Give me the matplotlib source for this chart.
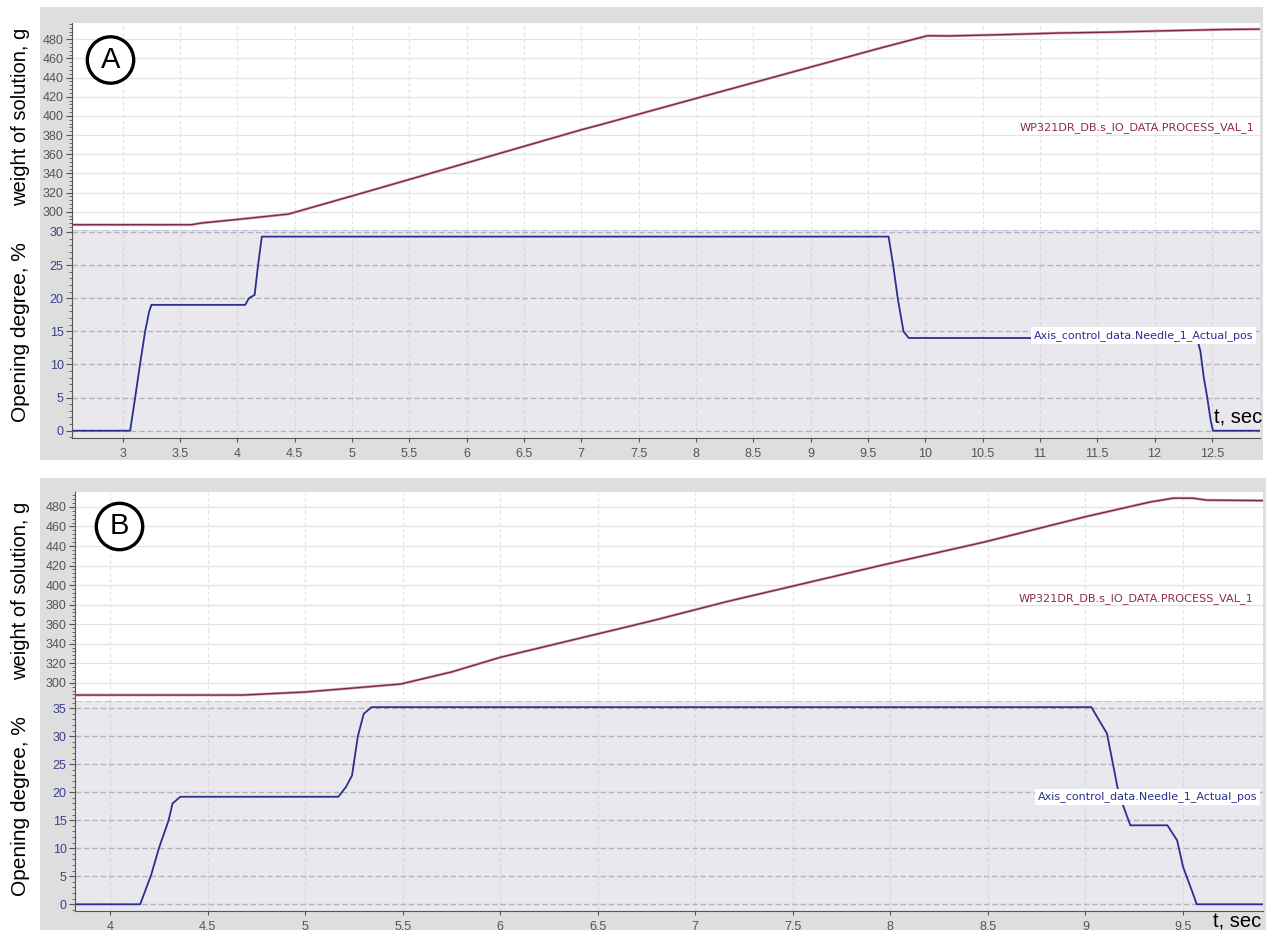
"""Two-panel valve / weight trace, recreated with matplotlib."""

import matplotlib
matplotlib.use("Agg")
import matplotlib.pyplot as plt
from matplotlib.patches import Rectangle, Circle
from matplotlib.ticker import MultipleLocator, FormatStrFormatter

# --- panel A data ---
a_weight_t = [2.56, 3.60, 3.68, 4.00, 4.445, 5.0, 6.0, 7.0, 7.165, 8.0, 9.0, 9.6, 9.9, 10.02,
              10.2, 10.63, 11.15, 11.64, 12.1, 12.6, 12.92]
a_weight_g = [286.5, 286.5, 288.2, 292.0, 297.6, 316.5, 351.0, 385.6, 390.8, 418.3, 451.0, 470.6,
              480.0, 483.7, 483.5, 484.7, 486.5, 487.5, 488.9, 490.2, 490.6]
a_open_t = [2.56, 3.064, 3.108, 3.15, 3.195, 3.23, 3.25, 4.068, 4.10, 4.15, 4.18, 4.213,
            9.68, 9.72, 9.76, 9.81, 9.855, 12.37, 12.40, 12.43, 12.46, 12.49, 12.51, 12.92]
a_open_v = [0, 0, 5, 10, 15, 18, 19, 19, 20, 20.5, 25, 29.3,
            29.3, 25, 20, 15, 14, 14, 12, 8, 5, 1.5, 0, 0]

# --- panel B data ---
b_weight_t = [3.82, 4.68, 5.0, 5.23, 5.49, 5.75, 6.0, 6.77, 7.16, 7.97, 8.48, 9.0, 9.33,
              9.45, 9.55, 9.62, 9.91]
b_weight_g = [287.4, 287.4, 290.5, 294.3, 298.7, 311.0, 326.0, 363.0, 383.0, 421.0, 444.0,
              470.0, 485.0, 489.0, 489.0, 487.0, 486.5]
b_open_t = [3.82, 4.154, 4.21, 4.25, 4.30, 4.32, 4.36, 5.17, 5.21, 5.24, 5.27, 5.30, 5.34,
            9.03, 9.11, 9.14, 9.17, 9.23, 9.42, 9.47, 9.50, 9.55, 9.57, 9.91]
b_open_v = [0, 0, 5.2, 10, 15, 18, 19.2, 19.2, 21, 23, 30, 34, 35.2,
            35.2, 30.5, 25.2, 19.8, 14.1, 14.1, 11.4, 6.7, 2, 0, 0]

weight_name = "WP321DR_DB.s_IO_DATA.PROCESS_VAL_1"
open_name = "Axis_control_data.Needle_1_Actual_pos"

W, H = 1269, 934
WEIGHT_COLOR = "#7a2a48"
OPEN_COLOR = "#2b2f8e"
TOP_TICK = "#555555"
BOT_TICK = "#3a3f90"
BOT_BG = "#e8e8ee"
FRAME = "#dedede"

plt.rcParams["font.family"] = ["Liberation Sans", "DejaVu Sans"]

fig = plt.figure(figsize=(W / 100, H / 100), dpi=100)


def px_axes(x0, y0, x1, y1):
    # pixel box (top-down image coords) -> figure axes
    return fig.add_axes([x0 / W, 1 - y1 / H, (x1 - x0) / W, (y1 - y0) / H])


def style_axis(ax, color, major, minor, bg):
    ax.set_facecolor(bg)
    for s in ("top", "right", "bottom"):
        ax.spines[s].set_visible(False)
    ax.spines["left"].set_color("#555555")
    ax.yaxis.set_major_locator(MultipleLocator(major))
    ax.yaxis.set_minor_locator(MultipleLocator(minor))
    ax.tick_params(axis="y", which="major", length=4, labelsize=9, labelcolor=color, color="#555555", pad=2)
    ax.tick_params(axis="y", which="minor", length=2, color="#555555")
    ax.xaxis.set_major_locator(MultipleLocator(0.5))


def panel(top_box, bot_box, frame_box, wt, wg, ot, ov, xlim, wlim, olim, letter, circ,
          tsec_xy, wlabel_y, olab_y, wname_y, oname_xy):
    fx0, fy0, fx1, fy1 = frame_box
    fig.add_artist(Rectangle((fx0 / W, 1 - fy1 / H), (fx1 - fx0) / W, (fy1 - fy0) / H,
                             transform=fig.transFigure, facecolor=FRAME, edgecolor="none", zorder=-5))

    ax_w = px_axes(*top_box)
    ax_o = px_axes(*bot_box)

    # weight trace
    style_axis(ax_w, TOP_TICK, 20, 4, "white")
    ax_w.grid(True, axis="y", color="#e4e4e4", lw=0.9)
    ax_w.grid(True, axis="x", color="#e4e4e4", lw=0.9, ls=(0, (3, 2)))
    ax_w.plot(wt, wg, color="#dba6b6", lw=2.0, solid_capstyle="butt")
    ax_w.plot(wt, wg, color=WEIGHT_COLOR, lw=1.0)
    ax_w.set_xlim(*xlim)
    ax_w.set_ylim(*wlim)
    ax_w.tick_params(axis="x", which="both", length=0, labelbottom=False)
    ax_w.text(xlim[1] - 0.05, wname_y, weight_name, ha="right", va="center", fontsize=8.1,
              color="#8a2c50", family=["DejaVu Sans"])

    # opening trace
    style_axis(ax_o, BOT_TICK, 5, 1, BOT_BG)
    ax_o.spines["bottom"].set_visible(True)
    ax_o.spines["bottom"].set_color("#555555")
    ax_o.grid(True, axis="y", color="#b4b4b8", lw=1.0, ls=(0, (4, 2)))
    ax_o.grid(True, axis="x", color="#d6d6dc", lw=0.9, ls=(0, (3, 2)))
    ax_o.axhline(olim[1], color="#b8b8e0", lw=1.2, ls=(0, (4, 2)))
    ax_o.plot(ot, ov, color=OPEN_COLOR, lw=1.3)
    ax_o.set_xlim(*xlim)
    ax_o.set_ylim(*olim)
    ax_o.xaxis.set_major_formatter(FormatStrFormatter("%g"))
    ax_o.tick_params(axis="x", which="major", length=3, labelsize=9, labelcolor=TOP_TICK, color="#555555", pad=4)
    ax_o.text(oname_xy[0], oname_xy[1], open_name, ha="right", va="center", fontsize=8.0,
              color=OPEN_COLOR, family=["DejaVu Sans"],
              bbox=dict(boxstyle="square,pad=0.25", fc="white", ec="none"))

    # circled letter
    cx, cy = circ
    fig.add_artist(Circle((cx / 100, (H - cy) / 100), 0.232, transform=fig.dpi_scale_trans,
                          facecolor="white", edgecolor="black", lw=2.4, zorder=10))
    fig.text(cx / W, 1 - cy / H, letter, ha="center", va="center", fontsize=21, zorder=11)

    # outer labels
    fig.text(21 / W, 1 - wlabel_y / H, "weight of solution, g", rotation=90, ha="center", va="center", fontsize=14.5)
    fig.text(21 / W, 1 - olab_y / H, "Opening degree, %", rotation=90, ha="center", va="center", fontsize=15)
    fig.text(tsec_xy[0] / W, 1 - tsec_xy[1] / H, "t, sec", ha="left", va="center", fontsize=14.5, zorder=12)


panel(top_box=(72, 23, 1260, 230), bot_box=(72, 230, 1260, 438), frame_box=(40, 7, 1263, 460),
      wt=a_weight_t, wg=a_weight_g, ot=a_open_t, ov=a_open_v,
      xlim=(2.557, 12.92), wlim=(281, 497), olim=(-1.1, 30.3), letter="A",
      circ=(110.5, 60), tsec_xy=(1214, 418), wlabel_y=117, olab_y=332,
      wname_y=387.7, oname_xy=(12.86, 14.4))

panel(top_box=(75, 492, 1263, 701), bot_box=(75, 701, 1263, 911), frame_box=(40, 478, 1266, 930),
      wt=b_weight_t, wg=b_weight_g, ot=b_open_t, ov=b_open_v,
      xlim=(3.82, 9.91), wlim=(281.3, 495.3), olim=(-1.2, 36.3), letter="B",
      circ=(119.5, 526.5), tsec_xy=(1213, 922), wlabel_y=591, olab_y=806,
      wname_y=386.6, oname_xy=(9.88, 19.2))

fig.savefig("out.png", dpi=100)
